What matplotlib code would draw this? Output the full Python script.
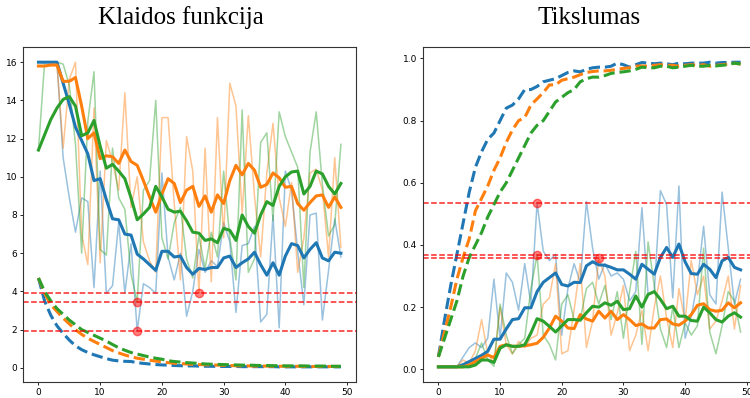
import numpy as np
import matplotlib
matplotlib.use("Agg")
from matplotlib import pyplot as plt

# epochs 0..49
epochs = np.arange(50)

# validation loss (raw, thin) and its smoothed curve (thick), training loss (dashed)
loss_blue_raw = [16.0, 16.0, 16.0, 16.0, 11.0, 8.9, 7.1, 8.9, 8.7, 4.2,
                 10.3, 3.9, 4.3, 7.6, 3.9, 6.5, 1.93, 4.4, 4.2, 3.9,
                 10.2, 5.8, 4.6, 6.0, 2.7, 4.0, 6.2, 5.0, 5.6, 5.3,
                 7.6, 6.6, 2.9, 6.4, 6.5, 7.4, 2.4, 2.8, 8.0, 2.1,
                 10.3, 9.3, 6.1, 3.3, 8.0, 8.1, 2.5, 5.1, 7.8, 5.8]
loss_orange_raw = [15.8, 15.8, 15.9, 15.9, 11.5, 15.1, 16.0, 7.0, 5.4, 13.6,
                   5.5, 11.9, 10.8, 9.3, 14.4, 8.4, 10.0, 6.6, 5.6, 5.0,
                   13.1, 13.1, 8.6, 4.6, 12.1, 10.3, 3.9, 11.5, 4.5, 13.1,
                   6.8, 14.9, 13.7, 8.1, 13.2, 9.0, 5.8, 10.2, 12.8, 8.9,
                   7.4, 9.7, 5.0, 6.8, 10.2, 10.4, 9.3, 5.8, 11.0, 6.3]
loss_green_raw = [11.4, 16.0, 16.0, 16.0, 15.9, 14.8, 11.7, 6.0, 12.9, 15.5,
                  6.2, 5.9, 11.5, 8.9, 8.3, 4.9, 3.44, 9.3, 9.8, 14.0,
                  6.8, 5.7, 7.6, 8.4, 5.7, 4.7, 6.9, 5.2, 7.1, 5.8,
                  10.3, 6.8, 4.6, 13.5, 5.0, 5.7, 11.8, 12.3, 7.7, 13.4,
                  12.1, 11.3, 10.5, 4.2, 11.3, 13.4, 9.6, 6.9, 7.5, 11.7]

loss_blue_smooth = [16.0, 16.0, 16.0, 16.0, 14.9, 13.8, 12.6, 11.9, 11.2, 9.8,
                    9.9, 8.8, 7.8, 7.75, 7.0, 6.95, 5.95, 5.7, 5.4, 5.1,
                    6.1, 6.1, 5.8, 5.85, 5.25, 4.9, 5.2, 5.15, 5.25, 5.25,
                    5.75, 5.85, 5.25, 5.5, 5.7, 6.05, 5.4, 4.85, 5.5, 4.85,
                    5.85, 6.5, 6.4, 5.75, 6.2, 6.55, 5.75, 5.6, 6.05, 6.0]
loss_orange_smooth = [15.8, 15.8, 15.85, 15.85, 15.0, 15.0, 15.2, 13.7, 12.0, 12.3,
                      10.95, 11.1, 11.05, 10.7, 11.4, 10.8, 10.6, 9.8, 8.95, 8.15,
                      9.1, 9.9, 9.65, 8.65, 9.3, 9.5, 8.45, 9.0, 8.15, 9.05,
                      8.6, 9.8, 10.6, 10.1, 10.7, 10.35, 9.45, 9.6, 10.2, 9.95,
                      9.45, 9.5, 8.6, 8.25, 8.65, 9.0, 9.05, 8.4, 8.95, 8.4]
loss_green_smooth = [11.4, 12.2, 13.0, 13.6, 14.05, 14.2, 13.7, 12.15, 12.3, 12.95,
                     11.6, 10.45, 10.65, 10.3, 9.9, 8.9, 7.75, 8.05, 8.4, 9.5,
                     8.95, 8.3, 8.15, 8.2, 7.7, 7.1, 7.05, 6.67, 6.75, 6.55,
                     7.3, 7.2, 6.67, 8.0, 7.4, 7.05, 8.0, 8.7, 8.5, 9.5,
                     10.0, 10.25, 10.3, 9.1, 9.5, 10.3, 10.15, 9.5, 9.1, 9.65]

loss_blue_train = [4.7, 3.5, 2.75, 2.2, 1.8, 1.45, 1.15, 0.95, 0.8, 0.68,
                   0.58, 0.48, 0.4, 0.36, 0.34, 0.33, 0.27, 0.23, 0.2, 0.17,
                   0.15, 0.14, 0.12, 0.11, 0.1, 0.1, 0.09, 0.08, 0.08, 0.07,
                   0.07, 0.07, 0.07, 0.06, 0.06, 0.06, 0.06, 0.06, 0.06, 0.05,
                   0.05, 0.05, 0.05, 0.05, 0.05, 0.05, 0.05, 0.05, 0.05, 0.05]
loss_orange_train = [4.7, 3.9, 3.3, 2.95, 2.6, 2.3, 2.0, 1.75, 1.55, 1.38,
                     1.22, 1.06, 0.9, 0.78, 0.67, 0.58, 0.5, 0.45, 0.4, 0.35,
                     0.31, 0.27, 0.24, 0.22, 0.2, 0.18, 0.17, 0.16, 0.15, 0.14,
                     0.13, 0.12, 0.11, 0.1, 0.1, 0.09, 0.09, 0.09, 0.08, 0.08,
                     0.08, 0.08, 0.08, 0.07, 0.07, 0.07, 0.07, 0.07, 0.07, 0.07]
loss_green_train = [4.7, 4.0, 3.5, 3.1, 2.8, 2.5, 2.25, 2.0, 1.85, 1.7,
                    1.55, 1.4, 1.22, 1.05, 0.92, 0.8, 0.72, 0.64, 0.56, 0.5,
                    0.45, 0.37, 0.33, 0.3, 0.27, 0.25, 0.23, 0.2, 0.19, 0.18,
                    0.17, 0.16, 0.15, 0.14, 0.14, 0.13, 0.12, 0.12, 0.11, 0.11,
                    0.1, 0.1, 0.1, 0.1, 0.09, 0.09, 0.09, 0.09, 0.08, 0.08]

# validation accuracy (raw / smoothed), training accuracy (dashed)
acc_blue_raw = [0.008, 0.008, 0.008, 0.008, 0.04, 0.07, 0.085, 0.07, 0.10, 0.29,
                0.10, 0.31, 0.28, 0.19, 0.34, 0.21, 0.535, 0.38, 0.35, 0.37,
                0.11, 0.26, 0.34, 0.28, 0.54, 0.39, 0.29, 0.34, 0.30, 0.31,
                0.29, 0.22, 0.25, 0.52, 0.24, 0.25, 0.575, 0.53, 0.23, 0.59,
                0.10, 0.17, 0.28, 0.46, 0.24, 0.21, 0.57, 0.39, 0.21, 0.29]
acc_orange_raw = [0.008, 0.008, 0.008, 0.01, 0.03, 0.02, 0.06, 0.16, 0.05, 0.02,
                  0.20, 0.08, 0.05, 0.09, 0.07, 0.10, 0.11, 0.21, 0.23, 0.34,
                  0.05, 0.06, 0.19, 0.34, 0.07, 0.155, 0.358, 0.30, 0.11, 0.18,
                  0.27, 0.06, 0.11, 0.19, 0.06, 0.20, 0.30, 0.165, 0.07, 0.26,
                  0.155, 0.35, 0.24, 0.30, 0.13, 0.155, 0.22, 0.30, 0.13, 0.27]
acc_green_raw = [0.008, 0.008, 0.008, 0.008, 0.008, 0.01, 0.035, 0.085, 0.03, 0.01,
                 0.21, 0.11, 0.05, 0.08, 0.10, 0.26, 0.368, 0.11, 0.08, 0.03,
                 0.21, 0.24, 0.16, 0.16, 0.26, 0.28, 0.21, 0.27, 0.16, 0.25,
                 0.10, 0.25, 0.38, 0.08, 0.41, 0.27, 0.13, 0.07, 0.20, 0.07,
                 0.15, 0.11, 0.14, 0.39, 0.12, 0.05, 0.14, 0.25, 0.22, 0.12]

acc_blue_smooth = [0.008, 0.008, 0.008, 0.008, 0.015, 0.025, 0.035, 0.045, 0.058, 0.097,
                   0.097, 0.13, 0.16, 0.163, 0.198, 0.198, 0.25, 0.28, 0.295, 0.31,
                   0.273, 0.268, 0.28, 0.279, 0.333, 0.346, 0.336, 0.335, 0.328, 0.32,
                   0.32, 0.306, 0.29, 0.338, 0.322, 0.306, 0.36, 0.392, 0.36, 0.403,
                   0.346, 0.308, 0.306, 0.338, 0.322, 0.295, 0.349, 0.36, 0.328, 0.32]
acc_orange_smooth = [0.008, 0.008, 0.008, 0.008, 0.008, 0.014, 0.025, 0.036, 0.046, 0.038,
                     0.074, 0.079, 0.074, 0.074, 0.076, 0.079, 0.084, 0.103, 0.133, 0.171,
                     0.155, 0.133, 0.131, 0.176, 0.162, 0.155, 0.187, 0.165, 0.187, 0.16,
                     0.176, 0.16, 0.141, 0.146, 0.133, 0.133, 0.16, 0.162, 0.146, 0.142,
                     0.155, 0.176, 0.206, 0.211, 0.192, 0.187, 0.19, 0.214, 0.198, 0.214]
acc_green_smooth = [0.008, 0.008, 0.008, 0.008, 0.008, 0.008, 0.014, 0.03, 0.03, 0.022,
                    0.068, 0.079, 0.074, 0.074, 0.079, 0.117, 0.163, 0.155, 0.138, 0.12,
                    0.14, 0.16, 0.16, 0.158, 0.182, 0.203, 0.2, 0.214, 0.206, 0.219,
                    0.192, 0.195, 0.236, 0.2, 0.241, 0.25, 0.225, 0.195, 0.203, 0.171,
                    0.171, 0.157, 0.155, 0.2, 0.182, 0.16, 0.152, 0.171, 0.182, 0.168]

acc_blue_train = [0.04, 0.16, 0.27, 0.37, 0.47, 0.57, 0.65, 0.70, 0.74, 0.76,
                  0.80, 0.84, 0.85, 0.87, 0.90, 0.90, 0.91, 0.925, 0.93, 0.935,
                  0.945, 0.955, 0.96, 0.957, 0.965, 0.97, 0.972, 0.972, 0.975, 0.985,
                  0.98, 0.972, 0.98, 0.987, 0.985, 0.983, 0.985, 0.983, 0.98, 0.985,
                  0.983, 0.985, 0.985, 0.985, 0.988, 0.985, 0.987, 0.987, 0.988, 0.988]
acc_orange_train = [0.04, 0.12, 0.20, 0.29, 0.36, 0.42, 0.51, 0.55, 0.59, 0.64,
                    0.68, 0.73, 0.77, 0.80, 0.81, 0.85, 0.87, 0.89, 0.915, 0.915,
                    0.93, 0.935, 0.94, 0.948, 0.955, 0.958, 0.96, 0.96, 0.962, 0.965,
                    0.968, 0.97, 0.975, 0.976, 0.975, 0.978, 0.98, 0.978, 0.978, 0.975,
                    0.978, 0.98, 0.978, 0.98, 0.975, 0.978, 0.98, 0.982, 0.985, 0.982]
acc_green_train = [0.04, 0.10, 0.16, 0.22, 0.30, 0.36, 0.40, 0.44, 0.49, 0.53,
                   0.57, 0.60, 0.64, 0.68, 0.72, 0.76, 0.785, 0.80, 0.83, 0.86,
                   0.875, 0.89, 0.90, 0.925, 0.935, 0.94, 0.94, 0.945, 0.952, 0.955,
                   0.957, 0.96, 0.965, 0.972, 0.97, 0.97, 0.975, 0.975, 0.97, 0.972,
                   0.975, 0.978, 0.975, 0.975, 0.978, 0.976, 0.978, 0.98, 0.985, 0.982]

colors = ["#1f77b4", "#ff7f0e", "#2ca02c"]
loss_raw = [loss_blue_raw, loss_orange_raw, loss_green_raw]
loss_smooth = [loss_blue_smooth, loss_orange_smooth, loss_green_smooth]
loss_train = [loss_blue_train, loss_orange_train, loss_green_train]
acc_raw = [acc_blue_raw, acc_orange_raw, acc_green_raw]
acc_smooth = [acc_blue_smooth, acc_orange_smooth, acc_green_smooth]
acc_train = [acc_blue_train, acc_orange_train, acc_green_train]

fig = plt.figure(figsize=(7.5, 3.98), dpi=100)
ax_loss = fig.add_axes([0.0311, 0.040, 0.4436, 0.842])
ax_acc = fig.add_axes([0.5644, 0.040, 0.4432, 0.842])

for ax, raw, smooth, train in [(ax_loss, loss_raw, loss_smooth, loss_train),
                               (ax_acc, acc_raw, acc_smooth, acc_train)]:
    for c, r in zip(colors, raw):
        ax.plot(epochs, r, color=c, alpha=0.45, lw=1.1)
    for c, s in zip(colors, smooth):
        ax.plot(epochs, s, color=c, lw=2.2)
    for c, t in zip(colors, train):
        ax.plot(epochs, t, color=c, lw=2.2, ls="--")

# best epoch of each model (min validation loss)
for r_loss, r_acc in zip(loss_raw, acc_raw):
    best = int(np.argmin(r_loss))
    ax_loss.axhline(r_loss[best], color="red", ls="--", lw=1.1, alpha=0.85)
    ax_loss.plot(best, r_loss[best], "o", color="red", ms=6, alpha=0.5)
    ax_acc.axhline(r_acc[best], color="red", ls="--", lw=1.1, alpha=0.85)
    ax_acc.plot(best, r_acc[best], "o", color="red", ms=6, alpha=0.5)

ax_loss.set_xticks([0, 10, 20, 30, 40, 50])
ax_loss.set_yticks([0, 2, 4, 6, 8, 10, 12, 14, 16])
ax_acc.set_xticks([0, 10, 20, 30, 40, 50])
ax_acc.set_yticks([0.0, 0.2, 0.4, 0.6, 0.8, 1.0])

for ax in (ax_loss, ax_acc):
    ax.tick_params(labelsize=6.5, length=2.5, width=0.6, pad=2)
    for sp in ax.spines.values():
        sp.set_linewidth(0.8)
        sp.set_color("#333333")

ax_loss.set_title("Klaidos funkcija", family="Liberation Serif", fontsize=18,
                  pad=16.5, x=0.475)
ax_acc.set_title("Tikslumas", family="Liberation Serif", fontsize=18, pad=16.5)

fig.savefig("out.png", dpi=100)
